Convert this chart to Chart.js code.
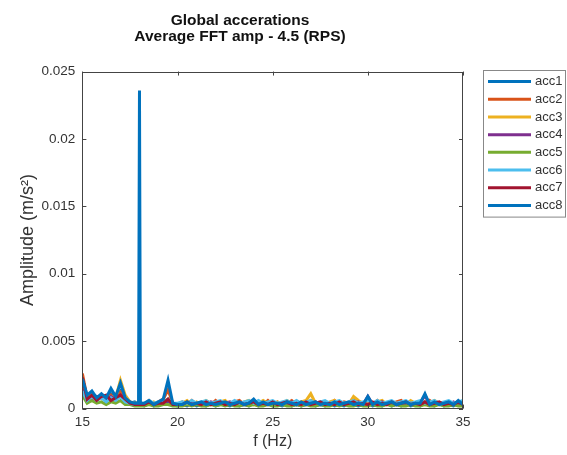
<!DOCTYPE html>
<html>
<head>
<meta charset="utf-8">
<script src="https://cdn.jsdelivr.net/npm/chart.js@4"></script>
<style>
  html, body { margin: 0; padding: 0; background: #fff; }
  #wrap { width: 567px; height: 455px; }
</style>
</head>
<body>
<div id="wrap"><canvas id="fft" width="567" height="455"></canvas></div>
<script>
// frequency bins (Hz)
const FREQ = [
  15, 15.25, 15.5, 15.75, 16, 16.25, 16.5, 16.75, 17, 17.25, 17.5, 17.75,
  17.95, 18, 18.05,
  18.25, 18.5, 18.75, 19, 19.25, 19.5, 19.75, 20,
  20.25, 20.5, 20.75, 21, 21.25, 21.5, 21.75, 22, 22.25, 22.5,
  22.75, 23, 23.25, 23.5, 23.75, 24, 24.25, 24.5, 24.75, 25,
  25.25, 25.5, 25.75, 26, 26.25, 26.5, 26.75, 27, 27.25, 27.5,
  27.75, 28, 28.25, 28.5, 28.75, 29, 29.25, 29.5, 29.75, 30,
  30.25, 30.5, 30.75, 31, 31.25, 31.5, 31.75, 32, 32.25, 32.5,
  32.75, 33, 33.25, 33.5, 33.75, 34, 34.25, 34.5, 34.75, 35
];

// amplitudes, in units of 1e-4 m/s^2
const AMP_UNIT = 1e-4;

const ACC1 = [
  20, 9, 12, 7, 10, 6, 11, 8, 13, 7, 4, 5,
  3, 4, 3,
  2, 4, 2, 3, 4, 6, 3, 2,
  3, 2, 4, 2, 3, 2, 4, 2, 3, 3,
  2, 4, 2, 3, 2, 5, 2, 3, 4, 2,
  3, 2, 4, 2, 3, 2, 3, 4, 2, 3,
  2, 4, 2, 3, 2, 4, 3, 2, 3, 5,
  2, 3, 2, 4, 2, 3, 2, 4, 2, 3,
  2, 5, 3, 2, 4, 2, 3, 2, 4, 2
];
const ACC2 = [
  26, 8, 10, 6, 9, 7, 10, 6, 12, 7, 4, 3,
  4, 5, 4,
  3, 6, 3, 5, 7, 14, 4, 3,
  5, 3, 6, 3, 4, 5, 3, 6, 3, 4,
  3, 5, 6, 3, 4, 3, 5, 3, 6, 3,
  5, 3, 4, 6, 3, 5, 3, 6, 5, 3,
  4, 3, 6, 3, 5, 4, 8, 4, 3, 5,
  3, 6, 3, 4, 3, 5, 6, 3, 4, 3,
  5, 3, 6, 3, 4, 3, 5, 3, 4, 3
];
const ACC3 = [
  19, 7, 11, 8, 9, 6, 9, 8, 21, 10, 5, 4,
  4, 4, 3,
  4, 3, 5, 3, 5, 7, 4, 3,
  4, 6, 3, 5, 3, 6, 4, 3, 5, 6,
  3, 4, 3, 5, 6, 3, 4, 6, 4, 3,
  5, 3, 6, 4, 3, 5, 6, 11, 4, 3,
  3, 5, 6, 3, 4, 3, 9, 6, 4, 4,
  3, 5, 6, 3, 4, 3, 5, 3, 6, 4,
  3, 5, 3, 6, 4, 3, 5, 3, 4, 3
];
const ACC4 = [
  14, 8, 6, 9, 8, 6, 9, 7, 10, 6, 5, 3,
  3, 3, 3,
  3, 5, 3, 4, 4, 6, 3, 3,
  4, 3, 5, 3, 4, 3, 5, 4, 3, 4,
  5, 3, 4, 3, 4, 5, 3, 4, 3, 5,
  3, 4, 3, 5, 3, 4, 3, 4, 5, 3,
  4, 3, 5, 3, 4, 3, 4, 5, 3, 9,
  3, 4, 5, 3, 4, 3, 5, 3, 4, 3,
  4, 10, 3, 5, 3, 4, 3, 5, 3, 4
];
const ACC5 = [
  10, 4, 6, 4, 5, 3, 5, 4, 6, 3, 3, 2,
  2, 2, 2,
  2, 3, 2, 2, 3, 3, 2, 2,
  2, 3, 2, 3, 2, 2, 3, 2, 3, 2,
  3, 2, 2, 3, 2, 3, 2, 2, 3, 2,
  2, 3, 2, 2, 3, 2, 3, 2, 2, 3,
  2, 2, 3, 2, 3, 2, 2, 3, 2, 2,
  3, 2, 2, 3, 2, 3, 2, 2, 3, 2,
  2, 3, 2, 2, 3, 2, 2, 3, 2, 2
];
const ACC6 = [
  13, 6, 9, 6, 8, 5, 8, 6, 9, 5, 4, 3,
  4, 4, 4,
  4, 6, 4, 5, 5, 7, 4, 4,
  5, 4, 6, 4, 5, 6, 4, 5, 6, 4,
  4, 6, 4, 5, 6, 4, 6, 4, 5, 6,
  4, 5, 6, 4, 6, 4, 5, 6, 4, 5,
  6, 4, 5, 6, 4, 5, 6, 4, 5, 6,
  4, 6, 4, 5, 6, 4, 5, 6, 4, 5,
  6, 4, 5, 6, 4, 5, 6, 4, 5, 6
];
const ACC7 = [
  23, 7, 10, 6, 9, 10, 6, 8, 10, 7, 4, 3,
  3, 4, 3,
  3, 5, 3, 4, 4, 7, 3, 3,
  3, 5, 3, 4, 3, 5, 3, 4, 5, 3,
  4, 3, 5, 3, 4, 5, 3, 4, 3, 5,
  3, 4, 5, 3, 4, 3, 5, 3, 4, 5,
  3, 4, 3, 5, 3, 4, 5, 3, 4, 3,
  5, 3, 4, 3, 5, 3, 4, 5, 3, 4,
  3, 5, 3, 4, 5, 3, 4, 3, 5, 3
];
const ACC8 = [
  22, 10, 13, 8, 11, 8, 15, 9, 19, 8, 5, 4,
  4, 236, 4,
  4, 6, 3, 5, 7, 21, 4, 3,
  3, 5, 3, 4, 5, 3, 4, 3, 4, 5,
  3, 4, 5, 3, 4, 7, 3, 5, 3, 4,
  4, 3, 5, 4, 3, 5, 3, 4, 5, 3,
  4, 3, 5, 3, 4, 5, 3, 4, 3, 9,
  3, 5, 3, 4, 5, 3, 4, 5, 3, 4,
  4, 11, 3, 5, 3, 4, 5, 3, 6, 3
];

const SERIES = [ACC1, ACC2, ACC3, ACC4, ACC5, ACC6, ACC7, ACC8];
const LABELS = ['acc1', 'acc2', 'acc3', 'acc4', 'acc5', 'acc6', 'acc7', 'acc8'];
const COLORS = ['#0072BD', '#D95319', '#EDB120', '#7E2F8E', '#77AC30', '#4DBEEE', '#A2142F', '#0072BD'];

const X_TICKS = [15, 20, 25, 30, 35];
const Y_TICKS = [0, 0.005, 0.01, 0.015, 0.02, 0.025];

const FONT = '"Liberation Sans", Arial, Helvetica, sans-serif';
const AXIS_COLOR = '#444';
const TEXT_COLOR = '#333';

// matlab-ish box with inward ticks + boxed legend
const frame = {
  id: 'frame',
  afterDatasetsDraw(chart) {
    const { ctx, chartArea: a, scales: { x, y } } = chart;
    const len = 4;
    ctx.save();
    ctx.strokeStyle = AXIS_COLOR;
    ctx.lineWidth = 1;
    ctx.strokeRect(Math.round(a.left) + 0.5, Math.round(a.top) + 0.5,
      Math.round(a.width) - 1, Math.round(a.height) - 1);
    ctx.beginPath();
    x.ticks.forEach(t => {
      const px = Math.round(x.getPixelForValue(t.value)) + 0.5;
      ctx.moveTo(px, a.bottom); ctx.lineTo(px, a.bottom - len);
      ctx.moveTo(px, a.top); ctx.lineTo(px, a.top + len);
    });
    y.ticks.forEach(t => {
      const py = Math.round(y.getPixelForValue(t.value)) + 0.5;
      ctx.moveTo(a.left, py); ctx.lineTo(a.left + len, py);
      ctx.moveTo(a.right, py); ctx.lineTo(a.right - len, py);
    });
    ctx.stroke();
    ctx.restore();
  },
  afterDraw(chart) {
    const { ctx, chartArea: a } = chart;
    const left = a.right + 20, top = a.top - 2;
    const w = 82, rowH = 17.7;
    const h = rowH * LABELS.length + 5;
    ctx.save();
    ctx.fillStyle = '#fff';
    ctx.fillRect(left, top, w, h);
    ctx.strokeStyle = '#888';
    ctx.lineWidth = 1;
    ctx.strokeRect(Math.round(left) + 0.5, Math.round(top) + 0.5, w, h);
    ctx.font = '13px ' + FONT;
    ctx.textBaseline = 'middle';
    chart.data.datasets.forEach((ds, i) => {
      const yy = top + 12 + i * rowH;
      ctx.strokeStyle = ds.borderColor;
      ctx.lineWidth = 3;
      ctx.beginPath();
      ctx.moveTo(left + 5, yy);
      ctx.lineTo(left + 48, yy);
      ctx.stroke();
      ctx.fillStyle = TEXT_COLOR;
      ctx.fillText(ds.label, left + 52, yy);
    });
    ctx.restore();
  }
};

const datasets = SERIES.map((vals, i) => ({
  label: LABELS[i],
  data: FREQ.map((f, j) => ({ x: f, y: vals[j] * AMP_UNIT })),
  borderColor: COLORS[i],
  backgroundColor: COLORS[i],
  borderWidth: 3,
  pointRadius: 0,
  tension: 0,
  order: SERIES.length - i
}));

new Chart(document.getElementById('fft'), {
  type: 'line',
  data: { datasets },
  options: {
    responsive: false,
    animation: false,
    layout: { padding: { left: 17, right: 104, top: 0, bottom: 4 } },
    plugins: {
      legend: { display: false },
      tooltip: { enabled: false },
      title: {
        display: true,
        text: ['Global accerations', 'Average FFT amp - 4.5 (RPS)'],
        color: '#111',
        font: { family: FONT, size: 15.5, weight: 'bold', lineHeight: 1.05 },
        padding: { top: 12.5, bottom: 26.5 }
      }
    },
    scales: {
      x: {
        type: 'linear',
        min: 15, max: 35,
        afterBuildTicks: s => { s.ticks = X_TICKS.map(v => ({ value: v })); },
        afterFit: s => { s.height -= 5; },
        grid: { display: false, drawTicks: false },
        border: { display: false },
        ticks: { color: TEXT_COLOR, font: { family: FONT, size: 13.5 }, padding: 6, maxRotation: 0 },
        title: { display: true, text: 'f (Hz)', color: TEXT_COLOR, font: { family: FONT, size: 16 }, padding: { top: 0, bottom: 0 } }
      },
      y: {
        type: 'linear',
        min: 0, max: 0.025,
        afterBuildTicks: s => { s.ticks = Y_TICKS.map(v => ({ value: v })); },
        afterFit: s => { s.width -= 4; },
        grid: { display: false, drawTicks: false },
        border: { display: false },
        ticks: { color: TEXT_COLOR, font: { family: FONT, size: 13.5 }, padding: 7, callback: v => String(+v.toFixed(3)) },
        title: { display: true, text: 'Amplitude (m/s²)', color: TEXT_COLOR, font: { family: FONT, size: 18 }, padding: { top: 0, bottom: 0 } }
      }
    }
  },
  plugins: [frame]
});
</script>
</body>
</html>
